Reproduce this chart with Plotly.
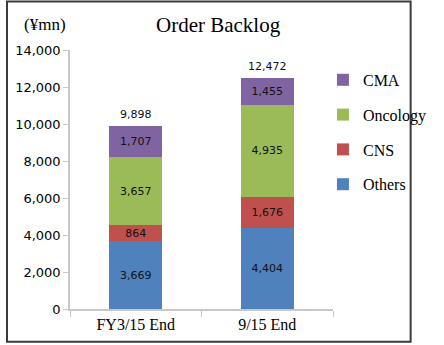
import plotly.graph_objects as go

categories = ["FY3/15 End", "9/15 End"]
others = [3669, 4404]
cns = [864, 1676]
oncology = [3657, 4935]
cma = [1707, 1455]
totals = [9898, 12472]
y_ticks = [0, 2000, 4000, 6000, 8000, 10000, 12000, 14000]

series = [
    ("Others", others, "#4F81BD"),
    ("CNS", cns, "#C0504D"),
    ("Oncology", oncology, "#9BBB59"),
    ("CMA", cma, "#8064A2"),
]

W, H = 444, 345
ml, mr, mt, mb = 70, 86, 50, 34
pw, ph = W - ml - mr, H - mt - mb

fig = go.Figure()
for i, (name, vals, color) in enumerate(series):
    fig.add_trace(go.Bar(
        x=categories, y=vals, name=name,
        marker=dict(color=color, line=dict(width=0)),
        text=[f"{v:,}" for v in vals], textposition="inside",
        insidetextanchor="middle", constraintext="none",
        textfont=dict(family="DejaVu Sans", size=11, color="#111111"),
        legendgroup=name, legendrank=10 - i,
    ))

for c, t in zip(categories, totals):
    fig.add_annotation(x=c, y=t, text=f"{t:,}", showarrow=False,
                       yanchor="bottom", yshift=3, xref="x", yref="y",
                       font=dict(family="DejaVu Sans", size=11, color="#111111"))

fig.add_annotation(text="Order Backlog", xref="paper", yref="paper",
                   x=(233 - ml) / pw, y=1 + (mt - 25) / ph, showarrow=False,
                   xanchor="center", yanchor="middle",
                   font=dict(family="Liberation Serif", size=21, color="#000000"))
fig.add_annotation(text="(¥mn)", xref="paper", yref="paper",
                   x=(43 - ml) / pw, y=1 + (mt - 24) / ph, showarrow=False,
                   xanchor="center", yanchor="middle",
                   font=dict(family="Liberation Serif", size=17, color="#000000"))

fig.add_shape(type="rect", xref="paper", yref="paper",
              x0=(1 - ml) / pw, x1=(W - 1 - ml) / pw,
              y0=-(mb - 1) / ph, y1=1 + (mt - 1) / ph,
              line=dict(color="#3a3a3a", width=2), fillcolor="rgba(0,0,0,0)")

fig.update_layout(
    width=W, height=H,
    margin=dict(l=ml, r=mr, t=mt, b=mb),
    barmode="stack", bargap=0.6,
    paper_bgcolor="white", plot_bgcolor="white",
    showlegend=True,
    legend=dict(x=(347 - ml) / pw, y=1 - (63 - mt) / ph, xanchor="left", yanchor="top",
                font=dict(family="Liberation Serif", size=16, color="#000000"),
                tracegroupgap=11, itemwidth=30, bgcolor="rgba(0,0,0,0)"),
    xaxis=dict(showline=True, linecolor="#C8C8C8", linewidth=1.5,
               ticks="outside", tickson="boundaries", ticklen=6, tickcolor="#C8C8C8",
               tickfont=dict(family="Liberation Serif", size=16, color="#000000"),
               showgrid=False),
    yaxis=dict(range=[0, 14000], tickvals=y_ticks, showline=True, linecolor="#C8C8C8",
               linewidth=1.5, ticks="outside", ticklen=5, tickcolor="#C8C8C8",
               tickformat=",d", showgrid=False, zeroline=False,
               tickfont=dict(family="DejaVu Sans", size=13, color="#000000")),
)

fig.write_html("out.html")
